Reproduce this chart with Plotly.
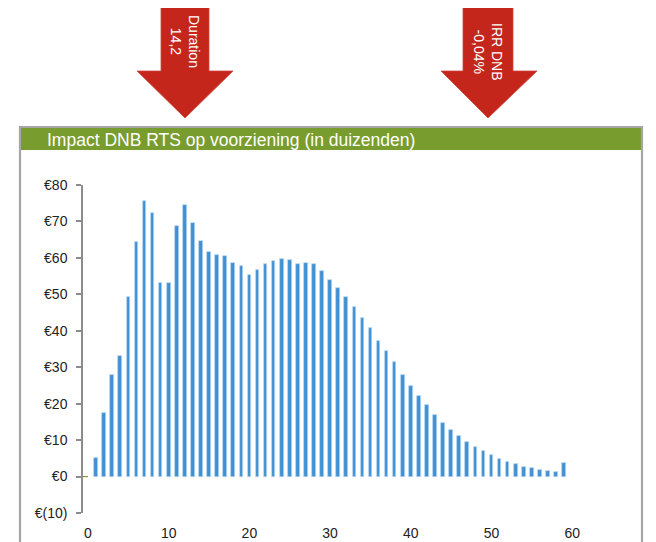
import plotly.graph_objects as go

# ---- data ----
years = list(range(1, 60))
impact = [5.1, 17.4, 27.9, 33.2, 49.2, 64.4, 75.7, 72.3, 53.1, 53.2,
          68.8, 74.4, 69.5, 64.6, 61.6, 60.8, 60.5, 58.6, 57.7, 55.3,
          56.6, 58.2, 59.2, 59.7, 59.3, 58.4, 58.7, 58.4, 56.4, 54.0,
          51.8, 49.4, 46.4, 43.6, 40.7, 37.3, 34.4, 31.3, 27.9, 24.8,
          22.2, 19.5, 16.9, 14.7, 12.9, 11.2, 9.5, 8.1, 6.9, 5.8,
          4.9, 4.1, 3.5, 2.7, 2.4, 1.9, 1.6, 1.3, 3.8]
y_tickvals = [-10, 0, 10, 20, 30, 40, 50, 60, 70, 80]
y_ticktext = ["€(10)", "€0", "€10", "€20", "€30", "€40", "€50", "€60", "€70", "€80"]
x_tickvals = [0, 10, 20, 30, 40, 50, 60]
title_text = "Impact DNB RTS op voorziening (in duizenden)"
arrow1_text = "Duration<br>14,2"
arrow2_text = "IRR DNB<br>-0,04%"

OFF = 8  # page body margin
W, H = 656 - OFF, 542 - OFF
ML, MR, MT, MB = 83 - OFF, 36, 185 - OFF, 29
PW, PH = W - ML - MR, H - MT - MB
FONT = "Arial, Liberation Sans, sans-serif"


def px(x):
    return (x - OFF - ML) / PW


def py(y):
    return (H - MB - (y - OFF)) / PH


fig = go.Figure()
fig.add_trace(go.Bar(
    x=years, y=impact, width=0.45,
    marker=dict(color="#4190d3", line=dict(color="#b7d5f0", width=0.7)),
    hoverinfo="x+y",
))

shapes = []
# frame
shapes.append(dict(type="path", xref="paper", yref="paper",
                   path=f"M {px(20)} {py(560)} L {px(20)} {py(127)} L {px(642)} {py(127)} L {px(642)} {py(560)}",
                   line=dict(color="#a6a6a6", width=2.2)))
# green title bar
shapes.append(dict(type="rect", xref="paper", yref="paper",
                   x0=px(21), x1=px(641), y0=py(150), y1=py(128),
                   fillcolor="#789c2e", line=dict(width=0), layer="below"))


def arrow(sx0, sx1, hx0, hx1, tip, top, neck, bottom):
    p = (f"M {px(sx0)} {py(top)} L {px(sx1)} {py(top)} L {px(sx1)} {py(neck)} "
         f"L {px(hx1)} {py(neck)} L {px(tip)} {py(bottom)} L {px(hx0)} {py(neck)} "
         f"L {px(sx0)} {py(neck)} Z")
    return dict(type="path", xref="paper", yref="paper", path=p,
                fillcolor="#c5261c", line=dict(color="#cf463c", width=0.8))


shapes.append(arrow(161, 209, 137, 233, 185, -2, 71, 118))
shapes.append(arrow(463, 513, 441, 537, 488, -2, 71, 118))
# short axis stub at zero
shapes.append(dict(type="line", xref="x", yref="y", x0=-0.62, x1=0, y0=0, y1=0,
                   line=dict(color="#7a9c2f", width=1.2)))

annotations = [
    dict(xref="paper", yref="paper", x=px(45), y=py(140), xanchor="left", yanchor="middle",
         text=title_text, showarrow=False, font=dict(family=FONT, size=17.5, color="white")),
    dict(xref="paper", yref="paper", x=px(185), y=py(41), xanchor="center", yanchor="middle",
         text=arrow1_text, textangle=90, showarrow=False, align="center",
         font=dict(family=FONT, size=14, color="white")),
    dict(xref="paper", yref="paper", x=px(488), y=py(52), xanchor="center", yanchor="middle",
         text=arrow2_text, textangle=90, showarrow=False, align="center",
         font=dict(family=FONT, size=14, color="white")),
]

x0 = -0.62
x1 = x0 + PW / 8.07

fig.update_layout(
    width=W, height=H,
    margin=dict(l=ML, r=MR, t=MT, b=MB, pad=0, autoexpand=False),
    paper_bgcolor="white", plot_bgcolor="white",
    showlegend=False,
    bargap=0,
    shapes=shapes,
    annotations=annotations,
    font=dict(family=FONT, size=14, color="#222222"),
    xaxis=dict(range=[x0, x1], tickvals=x_tickvals, showline=False, showgrid=False,
               zeroline=False, ticks="outside", ticklen=7, tickcolor="rgba(0,0,0,0)",
               automargin=False,
               tickfont=dict(family=FONT, size=14, color="#222222")),
    yaxis=dict(range=[-10, 80], tickvals=y_tickvals, ticktext=y_ticktext,
               showline=True, linecolor="#8c8c8c", linewidth=1.5,
               ticks="outside", ticklen=5, tickcolor="#8c8c8c", tickwidth=1.5,
               showgrid=False, zeroline=False, ticklabelstandoff=6, automargin=False,
               tickfont=dict(family=FONT, size=14, color="#222222")),
)

fig.write_html("out.html")
